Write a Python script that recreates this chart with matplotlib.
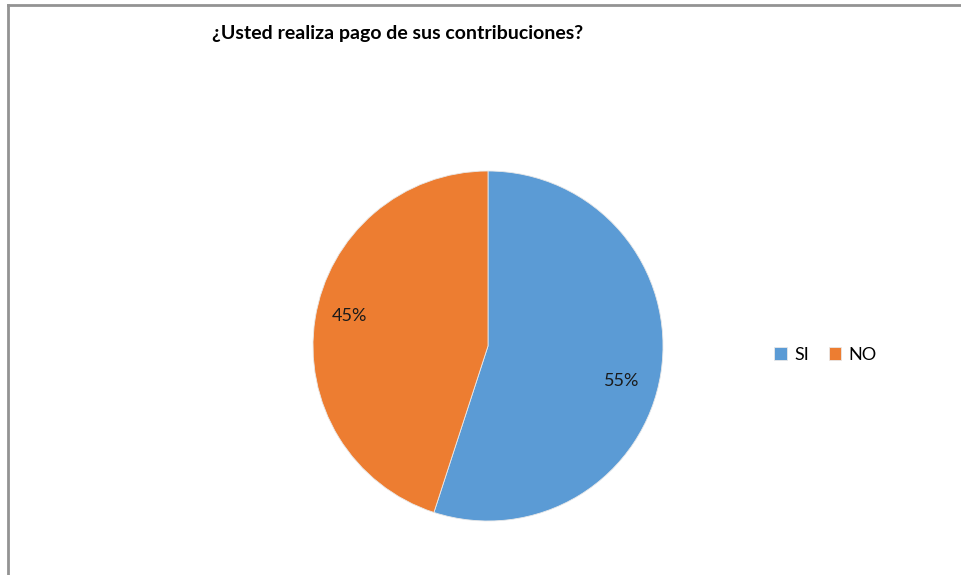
import matplotlib.pyplot as plt
from matplotlib.lines import Line2D

plt.rcParams['font.family'] = ['Lato', 'DejaVu Sans']

categorias = ["SI", "NO"]
porcentajes = [55, 45]
colores = ["#5B9BD5", "#ED7D31"]
titulo = "¿Usted realiza pago de sus contribuciones?"

W, H = 961, 575
fig = plt.figure(figsize=(W / 100, H / 100), dpi=100)

# marco del grafico: solo borde superior e izquierdo
fig.add_artist(Line2D([8 / W, 8 / W], [0, 1 - 5 / H], color="#939393", lw=2))
fig.add_artist(Line2D([8 / W, 1], [1 - 5 / H, 1 - 5 / H], color="#939393", lw=2))

fig.text(398 / W, 1 - 33 / H, titulo, ha="center", va="center",
         fontsize=14, fontweight="bold", color="#000000")

# pastel centrado en (488, 346) con radio 175 px
r = 175
cx, cy = 488, 346
ax = fig.add_axes([(cx - r) / W, (H - cy - r) / H, 2 * r / W, 2 * r / H])
wedges, texts, autotexts = ax.pie(
    porcentajes, colors=colores, startangle=90, counterclock=False,
    autopct="%1.0f%%", radius=1,
    wedgeprops=dict(edgecolor="#e8e8e8", linewidth=0.6),
    textprops=dict(fontsize=13, color="#1a1a1a"))
ax.set_xlim(-1, 1)
ax.set_ylim(-1, 1)
ax.set_aspect("equal")

autotexts[0].set_position((0.766, -0.20))
autotexts[1].set_position((-0.789, 0.171))

fig.legend(wedges, categorias, loc="center left",
           bbox_to_anchor=(758 / W, 1 - 355 / H), ncol=2, frameon=False,
           fontsize=13, handlelength=0.7, handleheight=0.7,
           handletextpad=0.4, columnspacing=1.1)

fig.savefig("out.png", dpi=100, facecolor="white")
